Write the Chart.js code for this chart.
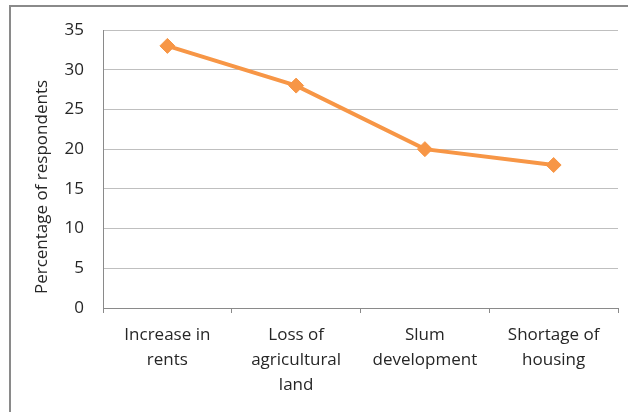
<!DOCTYPE html>
<html>
<head>
<meta charset="utf-8">
<script src="https://cdn.jsdelivr.net/npm/chart.js@4"></script>
<style>
  body { margin: 0; background: #fff; }
  #wrap { position: relative; width: 628px; height: 412px; overflow: hidden; }
  #frame {
    position: absolute; left: 9px; top: 5px; width: 640px; height: 420px;
    border-top: 2px solid #8a8a8a; border-left: 2px solid #8a8a8a;
    pointer-events: none;
  }
</style>
</head>
<body>
<div id="wrap">
  <canvas id="lineChart" width="628" height="412"></canvas>
  <div id="frame"></div>
</div>
<script>
const categorias = [
  ["Increase in", "rents"],
  ["Loss of", "agricultural", "land"],
  ["Slum", "development"],
  ["Shortage of", "housing"],
];
const porcentajes = [33, 28, 20, 18];
const ticksY = [0, 5, 10, 15, 20, 25, 30, 35];
const tituloY = "Percentage of respondents";

const fuente = "'Open Sans', 'Noto Sans', sans-serif";
const colorTexto = "#262626";

// titulo del eje Y, un poco mas abajo que el centro del area (como en Excel)
const tituloEjeY = {
  id: "tituloEjeY",
  afterDraw(chart) {
    const c = chart.ctx;
    c.save();
    c.translate(42, 187);
    c.rotate(-Math.PI / 2);
    c.font = "17px " + fuente;
    c.fillStyle = colorTexto;
    c.textAlign = "center";
    c.textBaseline = "middle";
    c.fillText(tituloY, 0, 0);
    c.restore();
  },
};

const ctx = document.getElementById("lineChart").getContext("2d");

new Chart(ctx, {
  type: "line",
  data: {
    labels: categorias,
    datasets: [
      {
        label: tituloY,
        data: porcentajes,
        borderColor: "#F79646",
        backgroundColor: "#F79646",
        borderWidth: 4,
        pointStyle: "rectRot",
        pointRadius: 7.5,
        pointBorderWidth: 1,
        tension: 0,
      },
    ],
  },
  options: {
    responsive: false,
    animation: false,
    layout: { padding: { left: 12, right: 10, top: 30, bottom: 0 } },
    plugins: {
      legend: { display: false },
      tooltip: { enabled: false },
    },
    scales: {
      x: {
        offset: true,
        grid: {
          offset: true,
          drawOnChartArea: false,
          drawTicks: true,
          tickLength: 5,
          color: "#8a8a8a",
        },
        border: { color: "#8a8a8a" },
        ticks: {
          color: colorTexto,
          font: { family: fuente, size: 17, lineHeight: 1.47 },
          padding: 10,
          maxRotation: 0,
          autoSkip: false,
        },
        afterFit: (scale) => {
          scale.height = 104;
        },
      },
      y: {
        min: 0,
        max: 35,
        afterBuildTicks: (scale) => {
          scale.ticks = ticksY.map((v) => ({ value: v }));
        },
        grid: { color: "#bfbfbf", drawTicks: false },
        border: { color: "#8a8a8a" },
        ticks: {
          color: colorTexto,
          font: { family: fuente, size: 17 },
          padding: 19,
        },
        afterFit: (scale) => {
          scale.width = 103 - 12;
        },
      },
    },
  },
  plugins: [tituloEjeY],
});
</script>
</body>
</html>
